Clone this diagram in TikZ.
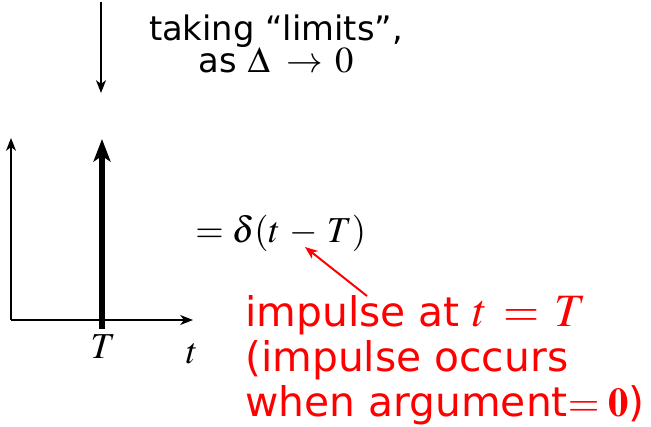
\documentclass[tikz,border=0pt]{standalone}
\usepackage{mathptmx}
\usepackage[no-math]{fontspec}
\setmainfont{DejaVu Sans}
\usetikzlibrary{arrows.meta}

\definecolor{notered}{RGB}{255,0,0}
\tikzset{
  axis/.style={line width=1.4pt, -{Stealth[length=9pt,width=7pt,inset=2.5pt]}},
  impulse/.style={line width=4.6pt, -{Stealth[length=16pt,width=12pt,inset=4pt]}},
  pointer/.style={notered, line width=1.4pt, -{Stealth[length=9pt,width=7pt,inset=2.5pt]}},
  steptext/.style={align=center, inner sep=0pt, font=\fontsize{24}{23}\selectfont},
  notetext/.style={align=left, inner sep=0pt, text=notered, font=\fontsize{29}{32}\selectfont},
  mathlbl/.style={inner sep=0pt, font=\fontsize{26}{28}\selectfont}
}

\begin{document}
\begin{tikzpicture}[x=0.025cm,y=-0.025cm]
  \useasboundingbox (0,0) rectangle (651,427);

  % limit step
  \coordinate (limtop) at (101,2);
  \coordinate (limbot) at (101,93);
  \draw[axis] (limtop) -- (limbot);
  \node[steptext] (limtxt) at (276,44) {taking “limits”,\\as {\fontsize{26}{23}\selectfont$\Delta\;\rightarrow\,0$}};

  % axes
  \coordinate (origin) at (11,320);
  \coordinate (yend) at (11,138);
  \coordinate (xend) at (193,320);
  \draw[axis] (origin) -- (yend);
  \draw[axis] (origin) -- (xend);

  % impulse at T
  \coordinate (imp0) at (102,329);
  \coordinate (imp1) at (102,139);
  \draw[impulse] (imp0) -- (imp1);
  \node[mathlbl, anchor=base] (Tlbl) at (103,358) {$T$};
  \node[mathlbl, anchor=base] (tlbl) at (192,363) {$t$};

  \node[mathlbl, anchor=base west] (delta) at (195,242) {$=\delta(t\,-\,T)$};

  % red note
  \node[notetext, anchor=north west] (note) at (245,295) {impulse at {\fontsize{33}{32}\selectfont$t\mkern2mu=\mkern2mu T$}\\(impulse occurs\\when argument$=\mathbf{0}$)};
  \coordinate (ptr) at (367,296);
  \coordinate (ptrtip) at (305,247);
  \draw[pointer] (ptr) -- (ptrtip);
\end{tikzpicture}
\end{document}
